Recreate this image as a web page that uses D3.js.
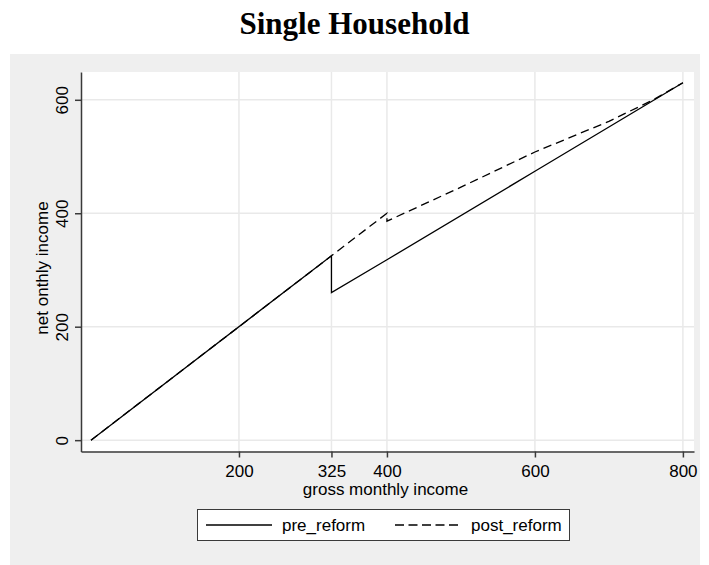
<!DOCTYPE html>
<html>
<head>
<meta charset="utf-8">
<script src="https://cdn.jsdelivr.net/npm/d3@7"></script>
<style>
  body { margin: 0; background: #ffffff; }
  text { font-family: "Liberation Sans", Arial, sans-serif; fill: #000; }
</style>
</head>
<body>
<div id="chart"></div>
<script>
// values
var preX  = [0, 325, 325, 400, 600, 800];
var preY  = [0, 325, 260, 318, 474, 630];
var postX = [0, 325, 400, 400, 500, 600, 700, 760, 800];
var postY = [0, 325, 400, 386, 446, 508, 562, 600, 630];

var xTicks = [200, 325, 400, 600, 800];
var yTicks = [0, 200, 400, 600];
var seriesNames = ["pre_reform", "post_reform"];

var W = 709, H = 565;
var fs = "17px";

var svg = d3.select("#chart")
    .append("svg")
    .attr("width", W)
    .attr("height", H);

// graph region (grey) and plot region (white)
svg.append("rect")
    .attr("x", 10).attr("y", 54)
    .attr("width", 690).attr("height", 511)
    .attr("fill", "#efefef");

var plot = { left: 81, right: 694, top: 72, bottom: 451.5 };

svg.append("rect")
    .attr("x", plot.left).attr("y", plot.top)
    .attr("width", plot.right - plot.left)
    .attr("height", plot.bottom - plot.top)
    .attr("fill", "#ffffff");

var x = d3.scaleLinear()
    .domain([-13.5, 815])
    .range([plot.left, plot.right]);

var y = d3.scaleLinear()
    .domain([-20, 649])
    .range([plot.bottom, plot.top]);

// grid lines
svg.append("g")
    .selectAll("line")
    .data(xTicks)
    .enter().append("line")
    .attr("x1", function (d) { return x(d); })
    .attr("x2", function (d) { return x(d); })
    .attr("y1", plot.top).attr("y2", plot.bottom)
    .attr("stroke", "#e9e9e9")
    .attr("stroke-width", 1.5);

svg.append("g")
    .selectAll("line")
    .data(yTicks)
    .enter().append("line")
    .attr("y1", function (d) { return y(d); })
    .attr("y2", function (d) { return y(d); })
    .attr("x1", plot.left).attr("x2", plot.right)
    .attr("stroke", "#e9e9e9")
    .attr("stroke-width", 1.5);

// axes
var xAxis = svg.append("g")
    .attr("transform", "translate(0," + plot.bottom + ")")
    .call(d3.axisBottom(x).tickValues(xTicks).tickSize(6).tickPadding(5).tickSizeOuter(0));

var yAxis = svg.append("g")
    .attr("transform", "translate(" + plot.left + ",0)")
    .call(d3.axisLeft(y).tickValues(yTicks).tickSize(6).tickPadding(5).tickSizeOuter(0));

[xAxis, yAxis].forEach(function (a) {
    a.select(".domain").attr("stroke", "#3a3a3a").attr("stroke-width", 1.5);
    a.selectAll(".tick line").attr("stroke", "#3a3a3a").attr("stroke-width", 1.5);
    a.selectAll(".tick text")
        .style("font-family", "Liberation Sans, Arial, sans-serif")
        .style("font-size", fs)
        .attr("fill", "#000");
});

// y tick labels are turned upright along the axis
yAxis.selectAll(".tick text")
    .attr("x", null).attr("dy", null)
    .attr("text-anchor", "middle")
    .attr("transform", "translate(-13,0) rotate(-90)");

xAxis.selectAll(".tick text").attr("dy", "0.85em");

// axis titles
svg.append("text")
    .attr("x", (plot.left + plot.right) / 2 - 2)
    .attr("y", 495)
    .attr("text-anchor", "middle")
    .style("font-size", fs)
    .text("gross monthly income");

svg.append("text")
    .attr("transform", "translate(48,268) rotate(-90)")
    .attr("text-anchor", "middle")
    .style("font-size", fs)
    .text("net onthly income");

// title
svg.append("text")
    .attr("x", 354.5)
    .attr("y", 34)
    .attr("text-anchor", "middle")
    .style("font-family", "Liberation Serif, Times New Roman, serif")
    .style("font-weight", "bold")
    .style("font-size", "31px")
    .text("Single Household");

// lines
var line = d3.line()
    .x(function (d) { return x(d[0]); })
    .y(function (d) { return y(d[1]); });

var preData = preX.map(function (v, i) { return [v, preY[i]]; });
var postData = postX.map(function (v, i) { return [v, postY[i]]; });

svg.append("path")
    .datum(preData)
    .attr("d", line)
    .attr("fill", "none")
    .attr("stroke", "#000")
    .attr("stroke-width", 1.3);

svg.append("path")
    .datum(postData)
    .attr("d", line)
    .attr("fill", "none")
    .attr("stroke", "#000")
    .attr("stroke-width", 1.3)
    .attr("stroke-dasharray", "8.5,5");

// legend
var lg = svg.append("g");
lg.append("rect")
    .attr("x", 197.5).attr("y", 509.5)
    .attr("width", 372).attr("height", 31)
    .attr("fill", "#fff")
    .attr("stroke", "#3a3a3a")
    .attr("stroke-width", 1);

var legendItems = [
    { name: seriesNames[0], x0: 206, dash: null },
    { name: seriesNames[1], x0: 395, dash: "9,4.5" }
];

legendItems.forEach(function (d) {
    lg.append("line")
        .attr("x1", d.x0).attr("x2", d.x0 + 66)
        .attr("y1", 525).attr("y2", 525)
        .attr("stroke", "#000")
        .attr("stroke-width", 1.3)
        .attr("stroke-dasharray", d.dash);
    lg.append("text")
        .attr("x", d.x0 + 76)
        .attr("y", 531)
        .style("font-size", fs)
        .text(d.name);
});
</script>
</body>
</html>
